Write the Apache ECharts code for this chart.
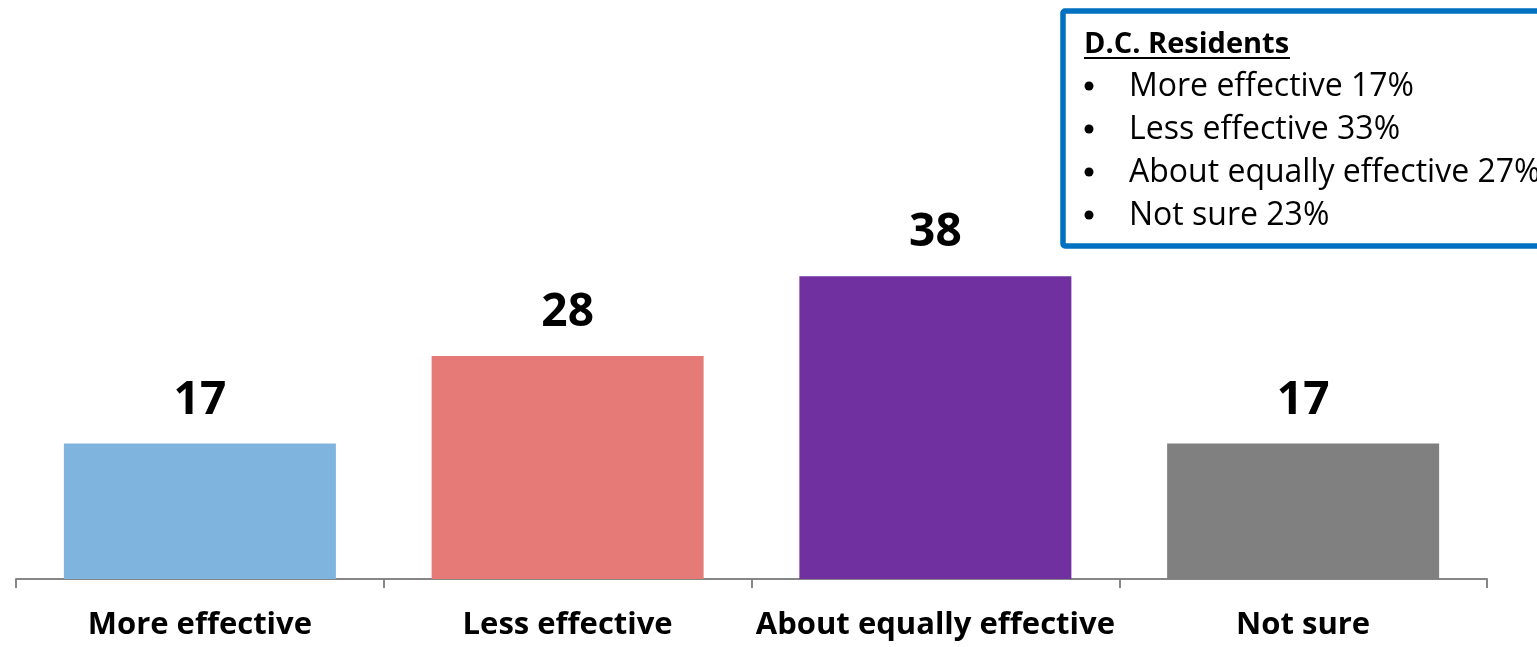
<!DOCTYPE html>
<html>
<head>
<meta charset="utf-8">
<script src="https://cdn.jsdelivr.net/npm/echarts@6/dist/echarts.min.js"></script>
<style>
html,body{margin:0;padding:0;background:#fff;}
#chart{width:1537px;height:647px;}
</style>
</head>
<body>
<div id="chart"></div>
<script>
const categories = ['More effective', 'Less effective', 'About equally effective', 'Not sure'];
const values = [17, 28, 38, 17];
const dcTitle = 'D.C. Residents';
const dcLabels = ['More effective', 'Less effective', 'About equally effective', 'Not sure'];
const dcValues = [17, 33, 27, 23];

const barColors = ['#7FB4DE', '#E57A77', '#7030A0', '#808080'];
const FONT = '"Open Sans", "Liberation Sans", sans-serif';

const chart = echarts.init(document.getElementById('chart'), null, {renderer: 'canvas'});

const legendGraphics = [
  {
    type: 'rect',
    shape: {x: 1063, y: 11, width: 600, height: 235, r: 2},
    style: {fill: '#fff', stroke: '#0070C0', lineWidth: 5.5},
    z: 10
  },
  {
    type: 'text',
    x: 1084, y: 45,
    style: {text: dcTitle, font: 'bold 29px ' + FONT, fill: '#000', textVerticalAlign: 'middle'},
    z: 11
  },
  {
    type: 'line',
    shape: {x1: 1084, y1: 58, x2: 1290, y2: 58},
    style: {stroke: '#000', lineWidth: 2},
    z: 11
  }
];
const rowY = [87, 130, 173, 216];
dcLabels.forEach((lab, i) => {
  legendGraphics.push({
    type: 'circle',
    shape: {cx: 1089, cy: rowY[i] - 1, r: 4.5},
    style: {fill: '#000'},
    z: 11
  });
  legendGraphics.push({
    type: 'text',
    x: 1129, y: rowY[i],
    style: {text: lab + ' ' + dcValues[i] + '%', font: '32px ' + FONT, fill: '#000', textVerticalAlign: 'middle'},
    z: 11
  });
});

chart.setOption({
  animation: false,
  backgroundColor: '#fff',
  grid: {left: 16, right: 50, top: 101, bottom: 68, containLabel: false},
  xAxis: {
    type: 'category',
    data: categories,
    axisLine: {lineStyle: {color: '#868686', width: 2}},
    axisTick: {show: true, length: 9, lineStyle: {color: '#868686', width: 2}},
    axisLabel: {
      interval: 0, margin: 31,
      fontFamily: FONT, fontWeight: 'bold', fontSize: 31, lineHeight: 31, color: '#000'
    }
  },
  yAxis: {type: 'value', min: 0, max: 60, show: false, splitLine: {show: false}},
  series: [{
    type: 'bar',
    barWidth: 272,
    data: values.map((v, i) => ({value: v, itemStyle: {color: barColors[i]}})),
    label: {
      show: true, position: 'top', distance: 20,
      fontFamily: FONT, fontWeight: 'bold', fontSize: 46, lineHeight: 46, color: '#000'
    }
  }],
  graphic: legendGraphics
});
</script>
</body>
</html>
